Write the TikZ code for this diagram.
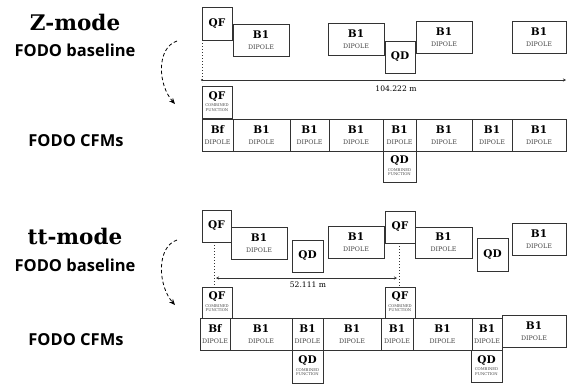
\documentclass[tikz,border=0pt]{standalone}
\usepackage{fontspec}
\setmainfont{DejaVu Serif}
\newfontfamily\headsans{Open Sans}
\usetikzlibrary{arrows.meta}
\definecolor{edge}{HTML}{333333}
\definecolor{soft}{HTML}{444444}
\newcommand\lb{\fontsize{10.5}{11}\selectfont\bfseries}
\newcommand\dpl{\fontsize{6.3}{7}\selectfont\color{soft}}
\newcommand\cfn{\fontsize{3.8}{4.2}\selectfont\color{soft}}
\newcommand\mybox[6]{\node[box,anchor=north west,minimum width={(#4-#2)*1pt},minimum height={(#5-#3)*1pt}] (#1) at (#2,#3) {#6};}
\newcommand\dip[1]{{\lb #1}\\[-1pt]{\dpl DIPOLE}}
\newcommand\cfm[1]{{\lb #1}\\[-2pt]{\cfn\renewcommand\arraystretch{1}\begin{tabular}{@{}c@{}}COMBINED\\FUNCTION\end{tabular}}}
\begin{document}
\begin{tikzpicture}[x=1pt,y=-1pt,
  box/.style={draw=edge,line width=0.85pt,inner sep=0pt,outer sep=0pt,align=center,fill=white},
  title/.style={font=\fontsize{21.5}{24}\selectfont\bfseries},
  sub/.style={font=\headsans\fontsize{16.5}{19}\selectfont\bfseries},
  curarrow/.style={dashed,line width=0.8pt,dash pattern=on 3.5pt off 2.5pt,-{Stealth[length=6pt,width=5pt]}},
  dimline/.style={line width=0.8pt,edge},
  dots/.style={line width=1pt,dotted,edge},
  dimtext/.style={font=\fontsize{7.6}{8}\selectfont}]
\useasboundingbox (0,0) rectangle (567,384);

% ---------------- Z-mode ----------------
\node[title] (zt) at (75,22) {Z-mode};
\node[sub] (zb) at (75,50) {FODO baseline};
\node[sub] (zc) at (76,141) {FODO CFMs};
\coordinate (za1) at (177,41);
\coordinate (za2) at (175,104);
\draw[curarrow] (za1) .. controls (156,48) and (158,85) .. (za2);

\coordinate (zd0) at (202,40);
\coordinate (zd1) at (202,82);
\draw[dots] (zd0) -- (zd1);
\coordinate (zl) at (202,80);
\coordinate (zr) at (566,80);
\draw[dimline,-{Stealth[length=3pt,width=3pt]}] (zl) -- (zr);
\fill[edge] (zl) circle (1.2pt);
\node[dimtext] (zlen) at (396,89) {104.222 m};

\mybox{zqf}{202}{7}{232}{40}{{\lb QF}}
\mybox{zb1}{233}{24}{289}{56}{\dip{B1}}
\mybox{zb2}{328}{23}{384}{55}{\dip{B1}}
\mybox{zqd}{385}{41}{415}{73}{{\lb QD}}
\mybox{zb3}{416}{21}{472}{53}{\dip{B1}}
\mybox{zb4}{512}{21}{566}{53}{\dip{B1}}

\mybox{zcqf}{202}{86}{232}{118}{\cfm{QF}}
\mybox{zc1}{202}{119}{233}{151}{\dip{Bf}}
\mybox{zc2}{233}{119}{290}{151}{\dip{B1}}
\mybox{zc3}{290}{119}{329}{151}{\dip{B1}}
\mybox{zc4}{329}{119}{383}{151}{\dip{B1}}
\mybox{zc5}{383}{119}{416}{151}{\dip{B1}}
\mybox{zc6}{416}{119}{472}{151}{\dip{B1}}
\mybox{zc7}{472}{119}{512}{151}{\dip{B1}}
\mybox{zc8}{512}{119}{566}{151}{\dip{B1}}
\mybox{zcqd}{383}{151}{416}{182}{\cfm{QD}}

% ---------------- tt-mode ----------------
\node[title] (tt) at (75,236) {tt-mode};
\node[sub] (tb) at (75,265) {FODO baseline};
\node[sub] (tc) at (76,340) {FODO CFMs};
\coordinate (ta1) at (177,240);
\coordinate (ta2) at (175,305);
\draw[curarrow] (ta1) .. controls (156,247) and (158,286) .. (ta2);

\coordinate (td0) at (214,242);
\coordinate (td1) at (214,287);
\coordinate (td2) at (399,243);
\coordinate (td3) at (399,287);
\draw[dots] (td0) -- (td1);
\draw[dots] (td2) -- (td3);
\coordinate (tl) at (216,278);
\coordinate (tr) at (397,278);
\draw[dimline,{Stealth[length=3pt,width=3pt]}-{Stealth[length=3pt,width=3pt]}] (tl) -- (tr);
\node[dimtext] (tlen) at (308,285) {52.111 m};

\mybox{tqf1}{202}{210}{231}{242}{{\lb QF}}
\mybox{tb1}{231}{227}{287}{259}{\dip{B1}}
\mybox{tqd1}{292}{240}{323}{272}{{\lb QD}}
\mybox{tb2}{328}{226}{384}{258}{\dip{B1}}
\mybox{tqf2}{385}{211}{415}{243}{{\lb QF}}
\mybox{tb3}{415}{227}{472}{258}{\dip{B1}}
\mybox{tqd2}{477}{238}{508}{271}{{\lb QD}}
\mybox{tb4}{512}{223}{566}{255}{\dip{B1}}

\mybox{tcqf1}{202}{287}{232}{318}{\cfm{QF}}
\mybox{tcqf2}{385}{287}{415}{318}{\cfm{QF}}
\mybox{tc1}{200}{318}{230}{350}{\dip{Bf}}
\mybox{tc2}{230}{318}{292}{350}{\dip{B1}}
\mybox{tc3}{292}{318}{323}{350}{\dip{B1}}
\mybox{tc4}{323}{318}{381}{350}{\dip{B1}}
\mybox{tc5}{381}{318}{413}{350}{\dip{B1}}
\mybox{tc6}{413}{318}{472}{350}{\dip{B1}}
\mybox{tc7}{472}{318}{502}{350}{\dip{B1}}
\mybox{tc8}{502}{315}{566}{347}{\dip{B1}}
\mybox{tcqd1}{292}{350}{323}{383}{\cfm{QD}}
\mybox{tcqd2}{471}{350}{502}{382}{\cfm{QD}}
\end{tikzpicture}
\end{document}
